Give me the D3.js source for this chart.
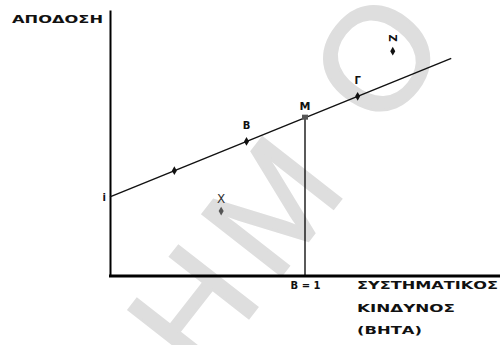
<!DOCTYPE html>
<html>
<head>
<meta charset="utf-8">
<script src="https://cdn.jsdelivr.net/npm/d3@7"></script>
<style>
  body { margin: 0; background: #fff; }
  svg { display: block; }
  .lbl { font-family: "DejaVu Sans", sans-serif; font-weight: bold; fill: #111; }
</style>
</head>
<body>
<svg id="chart" width="500" height="345"></svg>
<script>
// Security market line: expected return against systematic risk (beta)
const riskFreeRate = 5;          // i, the intercept
const marketReturn = 10;         // M, the market portfolio at beta = 1
const marketBeta = 1;
const lineEndBeta = 1.75;

// points lying on the line (beta only; return follows from the line)
const onLineNames = ["", "Β", "Γ"];
const onLineBetas = [0.33, 0.7, 1.27];

// securities off the line
const offLineNames = ["Ζ", "Χ"];
const offLineBetas = [1.45, 0.57];
const offLineReturns = [14.2, 4.1];

// text
const yTitle = "ΑΠΟΔΟΣΗ";
const xTitleLines = ["ΣΥΣΤΗΜΑΤΙΚΟΣ", "ΚΙΝΔΥΝΟΣ", "(ΒΗΤΑ)"];
const xTickLabel = "Β = 1";
const yTickLabel = "i";
const markLetters = ["Η", "Μ", "Ο"];

const svg = d3.select("#chart");
const x = d3.scaleLinear().domain([0, 2]).range([110, 500]);
const y = d3.scaleLinear().domain([0, 16.8]).range([276, 10]);
const sml = b => riskFreeRate + (marketReturn - riskFreeRate) * b / marketBeta;

// faint background lettering
const wm = svg.append("g").attr("fill", "#dedede").attr("stroke", "#dedede")
  .attr("stroke-width", 2.5)
  .style("font-family", "'Liberation Sans', Arial, sans-serif")
  .style("font-size", "145px");
const wmPos = [[191, 307], [270, 205], [375, 57]];
markLetters.forEach((ch, k) => {
  wm.append("text")
    .attr("transform", `translate(${wmPos[k][0]},${wmPos[k][1]}) rotate(-52)`)
    .attr("text-anchor", "middle").attr("dy", "0.36em").text(ch);
});

// axes
const xAxis = svg.append("g").attr("transform", `translate(0,${y(0)})`)
  .call(d3.axisBottom(x).tickValues([marketBeta]).tickSize(0).tickPadding(6)
    .tickFormat(() => xTickLabel));
xAxis.select(".domain").attr("stroke", "#000").attr("stroke-width", 3)
  .attr("d", `M${x(0) - 1},0H${x(2)}`);
xAxis.selectAll("text").attr("class", "lbl").style("font-size", "10px")
  .attr("font-family", null).attr("fill", null);

const yAxis = svg.append("g").attr("transform", `translate(${x(0)},0)`)
  .call(d3.axisLeft(y).tickValues([riskFreeRate]).tickSize(0).tickPadding(4)
    .tickFormat(() => yTickLabel));
yAxis.select(".domain").attr("stroke", "#000").attr("stroke-width", 2);
yAxis.selectAll("text").attr("class", "lbl").style("font-size", "10px")
  .attr("font-family", null).attr("fill", null);

// axis titles
svg.append("text").attr("class", "lbl").attr("x", 12).attr("y", 23)
  .attr("textLength", 91).attr("lengthAdjust", "spacingAndGlyphs")
  .style("font-size", "11px").text(yTitle);

const xTitleWidths = [141, 98, 65];
xTitleLines.forEach((t, k) => {
  svg.append("text").attr("class", "lbl")
    .attr("x", 357).attr("y", 289 + k * 22.5)
    .attr("textLength", xTitleWidths[k]).attr("lengthAdjust", "spacingAndGlyphs")
    .style("font-size", "11px").text(t);
});

// drop line from M to the beta axis
svg.append("line")
  .attr("x1", x(marketBeta)).attr("x2", x(marketBeta))
  .attr("y1", y(marketReturn)).attr("y2", y(0))
  .attr("stroke", "#000").attr("stroke-width", 1.3);

// the market line
svg.append("line")
  .attr("x1", x(0)).attr("y1", y(sml(0)))
  .attr("x2", x(lineEndBeta)).attr("y2", y(sml(lineEndBeta)))
  .attr("stroke", "#111").attr("stroke-width", 1.4);

// markers on the line
const diamond = d3.symbol().type(d3.symbolDiamond).size(22);
onLineBetas.forEach((b, k) => {
  svg.append("path").attr("d", diamond)
    .attr("transform", `translate(${x(b)},${y(sml(b))})`).attr("fill", "#111");
  if (onLineNames[k]) {
    svg.append("text").attr("class", "lbl")
      .attr("x", x(b)).attr("y", y(sml(b)) - 12)
      .attr("text-anchor", "middle").style("font-size", "10px").text(onLineNames[k]);
  }
});

// market portfolio
svg.append("rect")
  .attr("x", x(marketBeta) - 3).attr("y", y(marketReturn) - 3)
  .attr("width", 6).attr("height", 5).attr("fill", "#555");
svg.append("text").attr("class", "lbl")
  .attr("x", x(marketBeta)).attr("y", y(marketReturn) - 8)
  .attr("text-anchor", "middle").style("font-size", "11px").text("Μ");

// off-line securities
const offColors = ["#111", "#555"];
offLineBetas.forEach((b, k) => {
  svg.append("path").attr("d", diamond)
    .attr("transform", `translate(${x(b)},${y(offLineReturns[k])})`)
    .attr("fill", offColors[k]);
});
// Ζ label is set sideways
svg.append("text").attr("class", "lbl")
  .attr("transform", `translate(${x(offLineBetas[0])},${y(offLineReturns[0]) - 13}) rotate(90)`)
  .attr("text-anchor", "middle").attr("dy", "0.36em")
  .style("font-size", "10px").text(offLineNames[0]);
svg.append("text")
  .attr("x", x(offLineBetas[1])).attr("y", y(offLineReturns[1]) - 8)
  .attr("text-anchor", "middle")
  .style("font-family", "'DejaVu Sans', sans-serif").style("font-size", "12px")
  .attr("fill", "#333").text(offLineNames[1]);
</script>
</body>
</html>
